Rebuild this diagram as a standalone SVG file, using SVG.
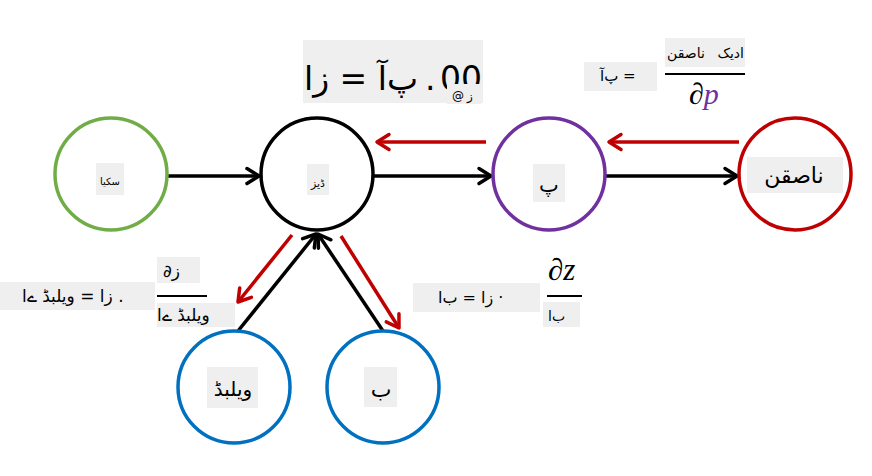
<svg xmlns="http://www.w3.org/2000/svg" width="872" height="476" viewBox="0 0 872 476">
<style>
.t{font-family:"DejaVu Sans","Noto Sans",sans-serif;fill:#000}
.box{fill:#efefef}
.node{fill:#fff;stroke-width:3.5}
.m{font-family:"Liberation Serif","DejaVu Serif",serif;font-style:italic;fill:#000}
.fl{stroke:#000;stroke-width:2}
.blk{stroke:#000;stroke-width:3.5;fill:none}
.red{stroke:#c00000;stroke-width:3.5;fill:none}
</style>
<defs>
<marker id="ab" markerUnits="userSpaceOnUse" markerWidth="16" markerHeight="18" viewBox="0 0 16 18" refX="14" refY="9" orient="auto" overflow="visible">
<path d="M2,1.5 L14,9 L2,16.5" fill="none" stroke="#000" stroke-width="3.5" stroke-linecap="round" stroke-linejoin="round"/>
</marker>
<marker id="ar" markerUnits="userSpaceOnUse" markerWidth="16" markerHeight="18" viewBox="0 0 16 18" refX="14" refY="9" orient="auto" overflow="visible">
<path d="M2,1.5 L14,9 L2,16.5" fill="none" stroke="#c00000" stroke-width="3.5" stroke-linecap="round" stroke-linejoin="round"/>
</marker>
</defs>
<rect width="872" height="476" fill="#fff"/>

<g id="connectors">
<line class="blk" x1="168" y1="176" x2="259" y2="176" marker-end="url(#ab)"/>
<line class="blk" x1="374" y1="176" x2="491" y2="176" marker-end="url(#ab)"/>
<line class="blk" x1="606" y1="176" x2="737" y2="176" marker-end="url(#ab)"/>
<line class="blk" x1="238" y1="331" x2="316" y2="234" marker-end="url(#ab)"/>
<line class="blk" x1="383" y1="331" x2="318" y2="234" marker-end="url(#ab)"/>
<line class="red" x1="486" y1="142" x2="377" y2="142" marker-end="url(#ar)"/>
<line class="red" x1="739" y1="142" x2="609" y2="142" marker-end="url(#ar)"/>
<line class="red" x1="292" y1="235" x2="238" y2="302" marker-end="url(#ar)"/>
<line class="red" x1="341" y1="236" x2="399" y2="328" marker-end="url(#ar)"/>
</g>

<g id="node-x">
<circle class="node" cx="111" cy="174" r="56" stroke="#70ad47"/>
<rect class="box" x="96" y="163" width="28" height="32"/>
<text class="t" x="110" y="185" font-size="10" text-anchor="middle">سکیا</text>
</g>
<g id="node-z">
<circle class="node" cx="317" cy="174" r="56" stroke="#000"/>
<rect class="box" x="307" y="164" width="22" height="31"/>
<text class="t" x="318" y="187" font-size="11" text-anchor="middle">ڈیز</text>
</g>
<g id="node-p">
<circle class="node" cx="549" cy="174" r="56" stroke="#7030a0"/>
<rect class="box" x="533" y="164" width="32" height="38"/>
<text class="t" x="549" y="192" font-size="21" text-anchor="middle">پ</text>
</g>
<g id="node-loss">
<circle class="node" cx="795" cy="174" r="56" stroke="#c00000"/>
<rect class="box" x="747" y="157" width="96" height="36"/>
<text class="t" x="794" y="183" font-size="22" text-anchor="middle">ناصقن</text>
</g>
<g id="node-w">
<circle class="node" cx="234" cy="387" r="56" stroke="#0070c0"/>
<rect class="box" x="207" y="367" width="51" height="41"/>
<text class="t" x="233" y="396" font-size="20" text-anchor="middle">ویلبڈ</text>
</g>
<g id="node-b">
<circle class="node" cx="383" cy="387" r="56" stroke="#0070c0"/>
<rect class="box" x="364" y="367" width="33" height="40"/>
<text class="t" x="381" y="397" font-size="22" text-anchor="middle">ب</text>
</g>

<g id="title">
<rect class="box" x="303" y="40" width="180" height="63"/>
<text class="t" x="304" y="90" font-size="33">پ‌آ = زا</text>
<text class="t" x="425" y="90" font-size="33">.</text>
<text class="t" x="440" y="90" font-size="33">00</text>
<rect class="box" x="447" y="84" width="34" height="20"/>
<text class="t" x="452" y="100" font-size="12">@</text>
<text class="t" x="467" y="100" font-size="12">ز</text>
</g>

<g id="grad-p">
<rect class="box" x="584" y="62" width="73" height="29"/>
<text class="t" x="600" y="81" font-size="15">پ‌آ =</text>
<rect class="box" x="665" y="38" width="80" height="29"/>
<text class="t" x="667" y="58" font-size="14">ناصقن</text>
<text class="t" x="744" y="58" font-size="14" text-anchor="end">ادیک</text>
<line class="fl" x1="665" y1="74" x2="745" y2="74"/>
<text class="m" x="689" y="104" font-size="30">∂<tspan fill="#7030a0">p</tspan></text>
</g>

<g id="grad-w">
<rect class="box" x="0" y="282" width="155" height="28"/>
<text class="t" x="22" y="302" font-size="17">زا = ویلبڈ ےا .</text>
<rect class="box" x="157" y="257" width="43" height="26"/>
<text class="t" x="163" y="277" font-size="17">∂ز</text>
<line class="fl" x1="157" y1="296" x2="207" y2="296"/>
<rect class="box" x="157" y="303" width="78" height="24"/>
<text class="t" x="157" y="321" font-size="17">ویلبڈ ےا</text>
</g>

<g id="grad-b">
<rect class="box" x="413" y="283" width="127" height="29"/>
<text class="t" x="438" y="303" font-size="16">زا = ب‌ا ·</text>
<text class="m" x="548" y="280" font-size="31">∂z</text>
<line class="fl" x1="547" y1="296" x2="582" y2="296"/>
<rect class="box" x="543" y="302" width="37" height="25"/>
<text class="t" x="548" y="321" font-size="14">ب‌ا</text>
</g>
</svg>
